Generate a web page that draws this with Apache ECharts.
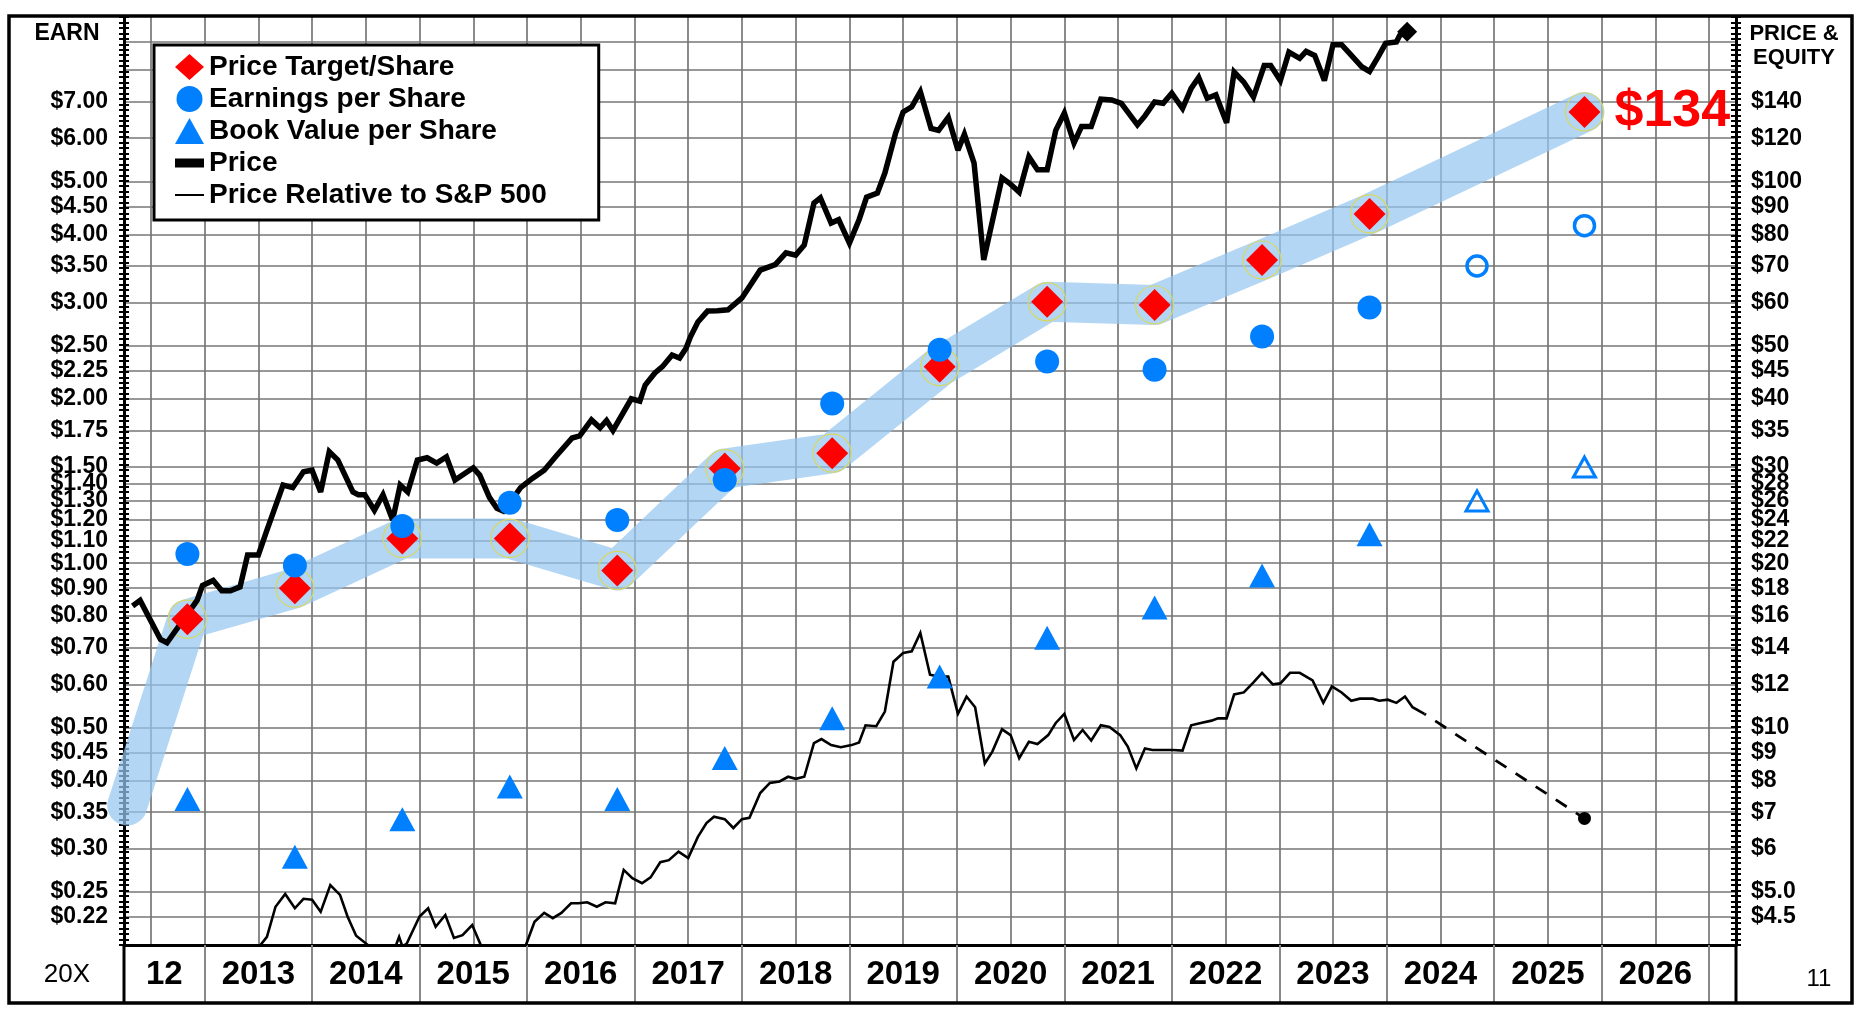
<!DOCTYPE html>
<html><head><meta charset="utf-8">
<script src="https://cdn.jsdelivr.net/npm/echarts@6/dist/echarts.min.js"></script>
<style>html,body{margin:0;padding:0;background:#fff}#c{width:1856px;height:1012px}</style>
</head><body><div id="c"></div>
<script>
// ---------- data ----------
const X_MIN = 2012.25, X_MAX = 2027.25;
const yearLabels = ['12','2013','2014','2015','2016','2017','2018','2019','2020','2021','2022','2023','2024','2025','2026'];
const earnLabelValues = [7,6,5,4.5,4,3.5,3,2.5,2.25,2,1.75,1.5,1.4,1.3,1.2,1.1,1.0,0.9,0.8,0.7,0.6,0.5,0.45,0.4,0.35,0.3,0.25,0.225];
const earnExtraGrid = [9, 8];
const priceLabelValues = [140,120,100,90,80,70,60,50,45,40,35,30,28,26,24,22,20,18,16,14,12,10,9,8,7,6,5,4.5];

const pointYears = [2012.84,2013.84,2014.84,2015.84,2016.84,2017.84,2018.84,2019.84,2020.84,2021.84,2022.84,2023.84];
const epsValues  = [1.04,0.99,1.17,1.29,1.20,1.42,1.96,2.46,2.34,2.26,2.60,2.94];
const bookValues = [0.37,0.29,0.34,0.39,0.37,0.44,0.52,0.62,0.73,0.83,0.95,1.13];
const projYears  = [2024.84,2025.84];
const epsProj    = [3.50,4.15];
const bookProj   = [1.30,1.50];
const targetYears  = [2012.84,2013.84,2014.84,2015.84,2016.84,2017.84,2018.84,2019.84,2020.84,2021.84,2022.84,2023.84,2025.84];
const targetValues = [0.79,0.90,1.11,1.11,0.97,1.49,1.59,2.29,3.01,2.97,3.59,4.36,6.70];
const bandStart = [2012.28, 0.36];

const pricePoints = [
[2012.33,16.7],[2012.40,17.1],[2012.59,14.5],[2012.65,14.3],[2012.93,17.1],[2012.98,18.2],[2013.08,18.6],
[2013.16,17.8],[2013.24,17.8],[2013.33,18.1],[2013.40,20.7],[2013.50,20.7],[2013.58,23.0],[2013.73,27.8],
[2013.82,27.5],[2013.92,29.4],[2014.00,29.6],[2014.08,27.0],[2014.16,32.0],[2014.24,30.9],[2014.38,27.0],
[2014.43,26.7],[2014.49,26.7],[2014.58,25.0],[2014.66,26.7],[2014.75,24.0],[2014.82,27.8],[2014.89,27.0],
[2014.98,30.9],[2015.07,31.2],[2015.16,30.5],[2015.25,31.3],[2015.33,28.4],[2015.50,29.9],[2015.56,29.0],
[2015.65,26.4],[2015.72,25.2],[2015.78,24.9],[2015.84,25.8],[2015.94,27.5],[2016.05,28.6],[2016.16,29.6],
[2016.27,31.4],[2016.42,33.9],[2016.49,34.2],[2016.60,36.6],[2016.68,35.4],[2016.74,36.5],[2016.80,35.0],
[2016.97,40.0],[2017.05,39.6],[2017.10,42.4],[2017.19,44.6],[2017.26,45.8],[2017.35,48.1],[2017.42,47.5],
[2017.48,49.5],[2017.52,51.9],[2017.59,55.3],[2017.68,57.9],[2017.77,58.0],[2017.87,58.2],[2018.00,61.2],
[2018.17,68.8],[2018.31,70.4],[2018.41,74.0],[2018.50,73.3],[2018.58,76.5],[2018.67,91.3],[2018.73,93.3],
[2018.83,83.9],[2018.90,85.1],[2019.00,77.1],[2019.09,85.1],[2019.16,93.6],[2019.26,95.2],[2019.33,103.6],
[2019.43,122.6],[2019.50,134],[2019.58,137],[2019.66,146],[2019.76,125],[2019.83,124],[2019.92,131],
[2020.01,114],[2020.07,122],[2020.16,108],[2020.25,71.8],[2020.42,101.5],[2020.49,99.2],[2020.58,95.6],
[2020.67,110.9],[2020.75,105],[2020.84,105],[2020.92,124],[2021.00,133.4],[2021.09,117.6],[2021.16,126],
[2021.25,126],[2021.34,141.5],[2021.44,141],[2021.53,139],[2021.68,126.9],[2021.75,131.8],[2021.84,139.8],
[2021.92,139],[2022.00,145],[2022.10,136],[2022.18,148],[2022.25,155],[2022.33,142],[2022.41,144],
[2022.51,128],[2022.58,158.6],[2022.67,152],[2022.76,142.7],[2022.86,163],[2022.92,163],[2023.01,153],
[2023.09,172.5],[2023.19,168],[2023.25,173],[2023.33,170],[2023.42,153],[2023.50,178],[2023.58,178],
[2023.65,172],[2023.77,162],[2023.84,159],[2023.92,169],[2023.99,179],[2024.09,180],[2024.12,185],[2024.19,188]
];

const relativePoints = [
[2013.45,3.8],[2013.52,4.0],[2013.58,4.14],[2013.66,4.70],[2013.75,4.96],[2013.84,4.67],[2013.92,4.86],
[2014.00,4.84],[2014.08,4.60],[2014.17,5.15],[2014.26,4.94],[2014.33,4.51],[2014.41,4.16],[2014.52,4.0],
[2014.62,3.7],[2014.75,3.85],[2014.81,4.14],[2014.84,3.98],[2014.88,4.02],[2015.00,4.51],[2015.08,4.67],
[2015.15,4.32],[2015.24,4.54],[2015.32,4.12],[2015.40,4.17],[2015.49,4.35],[2015.57,4.0],[2015.70,3.7],
[2015.90,3.8],[2015.99,4.0],[2016.07,4.41],[2016.16,4.58],[2016.24,4.48],[2016.32,4.58],[2016.41,4.77],
[2016.48,4.77],[2016.56,4.79],[2016.65,4.70],[2016.73,4.79],[2016.82,4.77],[2016.90,5.49],[2016.98,5.30],
[2017.07,5.19],[2017.15,5.32],[2017.24,5.67],[2017.32,5.72],[2017.41,5.93],[2017.50,5.77],[2017.59,6.31],
[2017.67,6.69],[2017.74,6.87],[2017.84,6.80],[2017.92,6.55],[2018.00,6.80],[2018.07,6.84],[2018.17,7.59],
[2018.26,7.92],[2018.35,7.97],[2018.43,8.13],[2018.50,8.06],[2018.58,8.13],[2018.67,9.37],[2018.74,9.53],
[2018.83,9.29],[2018.92,9.21],[2019.02,9.29],[2019.09,9.39],[2019.15,10.1],[2019.25,10.06],[2019.33,10.7],
[2019.41,13.2],[2019.50,13.7],[2019.58,13.8],[2019.66,14.9],[2019.75,12.5],[2019.83,12.4],[2019.92,12.4],
[2020.01,10.6],[2020.09,11.4],[2020.17,10.9],[2020.26,8.6],[2020.33,9.04],[2020.42,9.93],[2020.50,9.69],
[2020.58,8.79],[2020.67,9.42],[2020.75,9.33],[2020.85,9.69],[2020.92,10.2],[2021.00,10.6],[2021.09,9.49],
[2021.17,9.90],[2021.25,9.47],[2021.34,10.1],[2021.42,10.03],[2021.52,9.69],[2021.59,9.23],[2021.67,8.42],
[2021.75,9.16],[2021.82,9.10],[2021.91,9.10],[2022.01,9.10],[2022.10,9.08],[2022.18,10.1],[2022.27,10.2],
[2022.37,10.3],[2022.43,10.4],[2022.51,10.4],[2022.58,11.5],[2022.67,11.6],[2022.76,12.1],[2022.84,12.6],
[2022.94,12.0],[2023.01,12.05],[2023.10,12.6],[2023.19,12.6],[2023.31,12.2],[2023.41,11.1],[2023.49,11.9],
[2023.58,11.6],[2023.67,11.2],[2023.75,11.3],[2023.87,11.3],[2023.93,11.2],[2024.01,11.25],[2024.09,11.1],
[2024.17,11.4],[2024.24,10.9],[2024.35,10.6]
];
const relativeProjection = [2025.84, 6.82];

// ---------- helpers ----------
const FONT = 'Liberation Sans, Arial, Helvetica, sans-serif';
const EARN_MIN = 0.2, EARN_MAX = 10, PRICE_FACTOR = 20;
const yearCenters = yearLabels.map(l => {
  const y = l.length === 2 ? 2000 + (+l) : +l;
  return (Math.max(y, X_MIN) + Math.min(y + 1, X_MAX)) / 2;
});
const halfYearLines = [];
for (let v = Math.ceil(X_MIN * 2) / 2; v < X_MAX; v += 0.5) halfYearLines.push(v);
const yearBoundaries = [];
for (let v = Math.ceil(X_MIN); v < X_MAX; v += 1) yearBoundaries.push(v);
const earnGrid = earnExtraGrid.concat(earnLabelValues);
const denseEarn = Array.from({length: 171}, (_, i) => EARN_MIN * Math.pow(EARN_MAX / EARN_MIN, i / 170));
const densePrice = denseEarn.map(v => v * PRICE_FACTOR);

const chart = echarts.init(document.getElementById('c'), null, {renderer: 'canvas'});
const gridLine = {color: '#767676', width: 1.7};
const BLUE = '#0080ff';

const option = {
  animation: false,
  backgroundColor: '#fff',
  grid: {left: 124, right: 120, top: 17, bottom: 67, containLabel: false},
  xAxis: [
    {
      type: 'value', min: X_MIN, max: X_MAX, position: 'bottom',
      axisLine: {show: true, onZero: false, lineStyle: {color: '#000', width: 3}},
      axisTick: {show: false, customValues: halfYearLines},
      splitLine: {show: true, lineStyle: gridLine},
      axisLabel: {
        customValues: yearCenters, margin: 13,
        formatter: v => { const i = yearCenters.findIndex(c => Math.abs(c - v) < 1e-6); return i >= 0 ? yearLabels[i] : ''; },
        fontFamily: FONT, fontWeight: 'bold', fontSize: 33, color: '#000'
      }
    },
    {
      type: 'value', min: X_MIN, max: X_MAX, position: 'bottom',
      axisLine: {show: false, onZero: false},
      axisTick: {show: true, customValues: yearBoundaries, length: 58, inside: false, lineStyle: {color: '#888', width: 2}},
      splitLine: {show: false}, axisLabel: {show: false}
    }
  ],
  yAxis: [
    {
      type: 'log', logBase: 10, min: EARN_MIN, max: EARN_MAX, position: 'left',
      axisLine: {show: true, onZero: false, lineStyle: {color: '#000', width: 3}},
      axisTick: {show: false, customValues: earnGrid},
      splitLine: {show: true, lineStyle: gridLine},
      axisLabel: {
        customValues: earnLabelValues, margin: 16,
        formatter: v => '$' + (Math.floor(v * 100 + 1e-6) / 100).toFixed(2),
        fontFamily: FONT, fontWeight: 'bold', fontSize: 23, color: '#000'
      }
    },
    {
      type: 'log', logBase: 10, min: EARN_MIN, max: EARN_MAX, position: 'left', offset: -5,
      axisLine: {show: false, onZero: false},
      axisTick: {show: true, customValues: denseEarn, length: 10, lineStyle: {color: '#000', width: 2}},
      splitLine: {show: false}, axisLabel: {show: false}
    },
    {
      type: 'log', logBase: 10, min: EARN_MIN * PRICE_FACTOR, max: EARN_MAX * PRICE_FACTOR, position: 'right',
      axisLine: {show: true, onZero: false, lineStyle: {color: '#000', width: 3}},
      axisTick: {show: false, customValues: priceLabelValues},
      splitLine: {show: false},
      axisLabel: {
        customValues: priceLabelValues, margin: 15,
        formatter: v => '$' + (v < 5.5 ? v.toFixed(1) : String(v)),
        fontFamily: FONT, fontWeight: 'bold', fontSize: 23, color: '#000'
      }
    },
    {
      type: 'log', logBase: 10, min: EARN_MIN * PRICE_FACTOR, max: EARN_MAX * PRICE_FACTOR, position: 'right', offset: -5,
      axisLine: {show: false, onZero: false},
      axisTick: {show: true, customValues: densePrice, length: 10, lineStyle: {color: '#000', width: 2}},
      splitLine: {show: false}, axisLabel: {show: false}
    }
  ],
  legend: {
    left: 154, top: 45, orient: 'vertical', selectedMode: false,
    padding: [8, 52, 11, 21], itemWidth: 29, itemHeight: 26, itemGap: 4,
    backgroundColor: '#fff', borderColor: '#000', borderWidth: 3, borderRadius: 0,
    textStyle: {fontFamily: FONT, fontWeight: 'bold', fontSize: 28, color: '#000'},
    data: [
      {name: 'Price Target/Share', icon: 'diamond', itemStyle: {opacity: 1}},
      {name: 'Earnings per Share', icon: 'circle', itemStyle: {opacity: 1}},
      {name: 'Book Value per Share', icon: 'triangle', itemStyle: {opacity: 1}},
      {name: 'Price', icon: 'path://M0,0H29V9H0Z'},
      {name: 'Price Relative to S&P 500', icon: 'path://M0,0H29V2H0Z'}
    ]
  },
  series: [
    {
      name: 'band', type: 'line', xAxisIndex: 0, yAxisIndex: 0, z: 1, silent: true,
      data: [bandStart].concat(targetYears.map((y, i) => [y, targetValues[i]])),
      symbol: 'none',
      lineStyle: {width: 40, color: 'rgba(150,198,240,0.72)', cap: 'round', join: 'round'}
    },
    {
      name: 'rings', type: 'scatter', xAxisIndex: 0, yAxisIndex: 0, z: 1, silent: true,
      data: targetYears.map((y, i) => [y, targetValues[i]]),
      symbol: 'circle', symbolSize: 38,
      itemStyle: {color: 'rgba(0,0,0,0)', borderColor: '#d8d860', borderWidth: 1.2, opacity: 1}
    },
    {
      name: 'Price Relative to S&P 500', type: 'line', xAxisIndex: 0, yAxisIndex: 2, z: 3,
      data: relativePoints, symbol: 'none', color: '#000',
      lineStyle: {width: 2.6, color: '#000', join: 'miter'}
    },
    {
      name: 'relProjection', type: 'line', xAxisIndex: 0, yAxisIndex: 2, z: 3,
      data: [
        {value: relativePoints[relativePoints.length - 1], symbol: 'none'},
        {value: relativeProjection, symbol: 'circle', symbolSize: 13}
      ],
      color: '#000', itemStyle: {color: '#000', opacity: 1},
      lineStyle: {width: 2.8, color: '#000', type: [13, 11], dashOffset: 11}
    },
    {
      name: 'Price', type: 'line', xAxisIndex: 0, yAxisIndex: 2, z: 4,
      data: pricePoints.map((p, i) => i === pricePoints.length - 1 ? {value: p, symbol: 'diamond', symbolSize: 20} : {value: p}),
      symbol: 'none', color: '#000', itemStyle: {color: '#000', opacity: 1},
      lineStyle: {width: 5.5, color: '#000', join: 'miter', miterLimit: 3}
    },
    {
      name: 'Book Value per Share', type: 'scatter', xAxisIndex: 0, yAxisIndex: 0, z: 5,
      data: pointYears.map((y, i) => [y, bookValues[i]]),
      symbol: 'triangle', symbolSize: [26, 24], itemStyle: {color: BLUE, opacity: 1}
    },
    {
      name: 'bookProj', type: 'scatter', xAxisIndex: 0, yAxisIndex: 0, z: 5,
      data: projYears.map((y, i) => [y, bookProj[i]]),
      symbol: 'triangle', symbolSize: [22, 20],
      itemStyle: {color: 'rgba(0,0,0,0)', borderColor: BLUE, borderWidth: 3, opacity: 1}
    },
    {
      name: 'Price Target/Share', type: 'scatter', xAxisIndex: 0, yAxisIndex: 0, z: 6,
      data: targetYears.map((y, i) => i === targetYears.length - 1 ? {
        value: [y, targetValues[i]],
        label: {show: true, position: 'right', distance: 14,
          formatter: p => '$' + Math.round(p.value[1] * PRICE_FACTOR),
          fontFamily: FONT, fontWeight: 'bold', fontSize: 52, color: '#ff0000'}
      } : [y, targetValues[i]]),
      symbol: 'diamond', symbolSize: 32, itemStyle: {color: '#ff0000', opacity: 1}
    },
    {
      name: 'Earnings per Share', type: 'scatter', xAxisIndex: 0, yAxisIndex: 0, z: 7,
      data: pointYears.map((y, i) => [y, epsValues[i]]),
      symbol: 'circle', symbolSize: 24, itemStyle: {color: BLUE, opacity: 1}
    },
    {
      name: 'epsProj', type: 'scatter', xAxisIndex: 0, yAxisIndex: 0, z: 7,
      data: projYears.map((y, i) => [y, epsProj[i]]),
      symbol: 'circle', symbolSize: 20,
      itemStyle: {color: 'rgba(0,0,0,0)', borderColor: BLUE, borderWidth: 3.5, opacity: 1}
    }
  ],
  graphic: [
    {type: 'rect', shape: {x: 9, y: 16, width: 1843, height: 987}, style: {fill: null, stroke: '#000', lineWidth: 3.5}, z: 100, silent: true},
    {type: 'line', shape: {x1: 124, y1: 945, x2: 124, y2: 1003}, style: {stroke: '#000', lineWidth: 3}, z: 100, silent: true},
    {type: 'line', shape: {x1: 1736, y1: 945, x2: 1736, y2: 1003}, style: {stroke: '#000', lineWidth: 3}, z: 100, silent: true},
    {type: 'text', x: 67, y: 34, style: {text: 'EARN', font: 'bold 23px ' + FONT, fill: '#000', textAlign: 'center', textVerticalAlign: 'middle'}, z: 100},
    {type: 'text', x: 1794, y: 34, style: {text: 'PRICE &', font: 'bold 22px ' + FONT, fill: '#000', textAlign: 'center', textVerticalAlign: 'middle'}, z: 100},
    {type: 'text', x: 1794, y: 58, style: {text: 'EQUITY', font: 'bold 22px ' + FONT, fill: '#000', textAlign: 'center', textVerticalAlign: 'middle'}, z: 100},
    {type: 'text', x: 67, y: 975, style: {text: '20X', font: 'normal 26px ' + FONT, fill: '#000', textAlign: 'center', textVerticalAlign: 'middle'}, z: 100},
    {type: 'text', x: 1819, y: 979, style: {text: '11', font: 'normal 24px ' + FONT, fill: '#000', textAlign: 'center', textVerticalAlign: 'middle'}, z: 100}
  ]
};
chart.setOption(option);
</script>
</body></html>
